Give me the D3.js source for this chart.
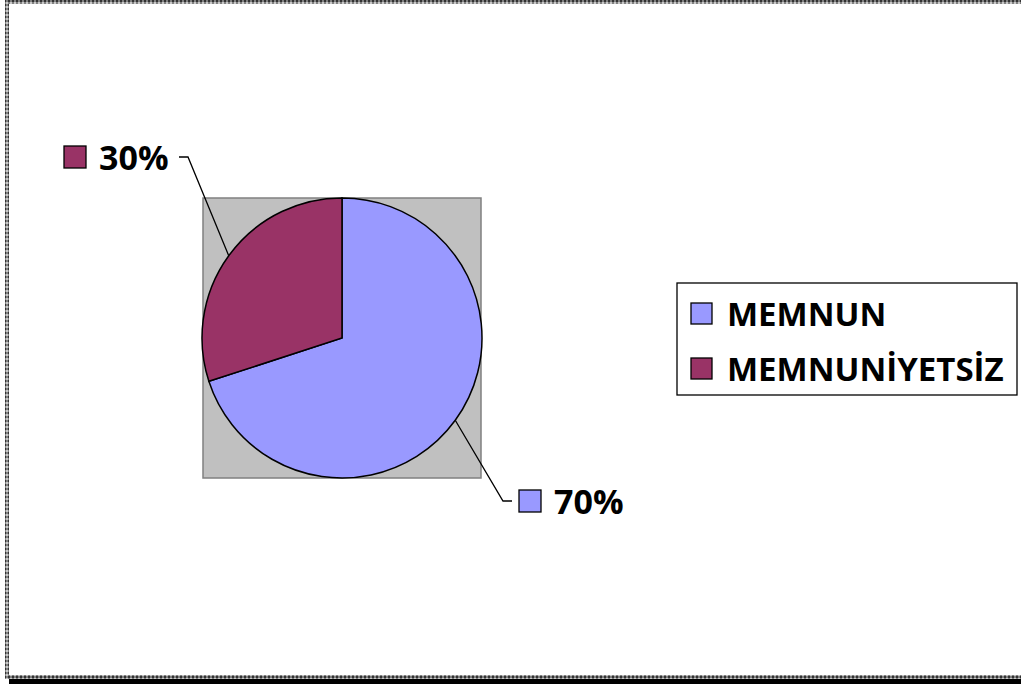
<!DOCTYPE html>
<html>
<head>
<meta charset="utf-8">
<script src="https://cdn.jsdelivr.net/npm/d3@7"></script>
<style>
  html, body { margin: 0; padding: 0; background: #fff; }
  svg { display: block; }
</style>
</head>
<body>
<div class="chart"></div>
<script>
// data
var categories = ["MEMNUN", "MEMNUNİYETSİZ"];
var values = [70, 30];
var colors = ["#9999FF", "#993366"];

var width = 1021,
    height = 684,
    cx = 342, cy = 338, radius = 140;

var svg = d3.select(".chart").append("svg")
    .attr("width", width)
    .attr("height", height);

// patterned frame (looks like the excel border)
var defs = svg.append("defs");
var pat = defs.append("pattern")
    .attr("id", "checker")
    .attr("width", 4).attr("height", 4)
    .attr("patternUnits", "userSpaceOnUse");
pat.append("rect").attr("width", 4).attr("height", 4).attr("fill", "#808080");
pat.append("rect").attr("width", 2).attr("height", 2).attr("fill", "#333");
pat.append("rect").attr("x", 2).attr("y", 2).attr("width", 2).attr("height", 2).attr("fill", "#c8c8c8");

svg.append("rect") // shadow at bottom
    .attr("x", 9).attr("y", 679).attr("width", width - 9).attr("height", 5)
    .attr("fill", "#000");
svg.append("rect").attr("x", 5).attr("y", 0).attr("width", width - 5).attr("height", 4).attr("fill", "url(#checker)");
svg.append("rect").attr("x", 5).attr("y", 0).attr("width", 4).attr("height", 679).attr("fill", "url(#checker)");
svg.append("rect").attr("x", 5).attr("y", 675).attr("width", width - 5).attr("height", 4).attr("fill", "url(#checker)");

// plot area
svg.append("rect")
    .attr("x", cx - radius + 1).attr("y", cy - radius)
    .attr("width", 2 * radius - 2).attr("height", 2 * radius)
    .attr("fill", "#C0C0C0")
    .attr("stroke", "#808080")
    .attr("stroke-width", 1.5);

var pie = d3.pie().sort(null)(values);
var arc = d3.arc().innerRadius(0).outerRadius(radius);

var g = svg.append("g").attr("transform", "translate(" + cx + "," + cy + ")");
g.selectAll(".slice")
    .data(pie)
    .enter()
    .append("path")
    .attr("class", "slice")
    .attr("d", arc)
    .attr("fill", function(d, i) { return colors[i]; })
    .attr("stroke", "#000")
    .attr("stroke-width", 1.5);

// data labels, placed like the original
var labelSpots = [
  {elbowX: 503, elbowY: 501, endX: 512, boxX: 519},
  {elbowX: 188, elbowY: 157, endX: 179, boxX: 64}
];
var fmt = d3.format(".0%");
var total = d3.sum(values);

pie.forEach(function(d, i) {
  var a = (d.startAngle + d.endAngle) / 2;
  var px = cx + Math.sin(a) * radius,
      py = cy - Math.cos(a) * radius;
  var s = labelSpots[i];
  svg.append("polyline")
      .attr("points", [[px, py], [s.elbowX, s.elbowY], [s.endX, s.elbowY]].join(" "))
      .attr("fill", "none")
      .attr("stroke", "#000")
      .attr("stroke-width", 1.3);
  svg.append("rect")
      .attr("x", s.boxX).attr("y", s.elbowY - 11)
      .attr("width", 22).attr("height", 22)
      .attr("fill", colors[i])
      .attr("stroke", "#000")
      .attr("stroke-width", 1.3);
  svg.append("text")
      .attr("x", s.boxX + 35)
      .attr("y", s.elbowY + 13)
      .attr("font-family", "Open Sans")
      .attr("font-weight", "bold")
      .attr("font-size", "34px")
      .text(fmt(values[i] / total));
});

// legend
var legend = svg.append("g").attr("class", "legend");
legend.append("rect")
    .attr("x", 677).attr("y", 283)
    .attr("width", 340).attr("height", 112)
    .attr("fill", "#fff")
    .attr("stroke", "#000")
    .attr("stroke-width", 1.3);

var ly = d3.scalePoint().domain(categories).range([314, 369]);
var items = legend.selectAll(".item")
    .data(categories)
    .enter()
    .append("g")
    .attr("class", "item")
    .attr("transform", function(d) { return "translate(691," + ly(d) + ")"; });
items.append("rect")
    .attr("x", 0).attr("y", -11)
    .attr("width", 21).attr("height", 21)
    .attr("fill", function(d, i) { return colors[i]; })
    .attr("stroke", "#000")
    .attr("stroke-width", 1.3);
items.append("text")
    .attr("x", 36).attr("y", 12)
    .attr("font-family", "Open Sans")
    .attr("font-weight", "bold")
    .attr("font-size", "33px")
    .text(function(d) { return d; });
</script>
</body>
</html>
